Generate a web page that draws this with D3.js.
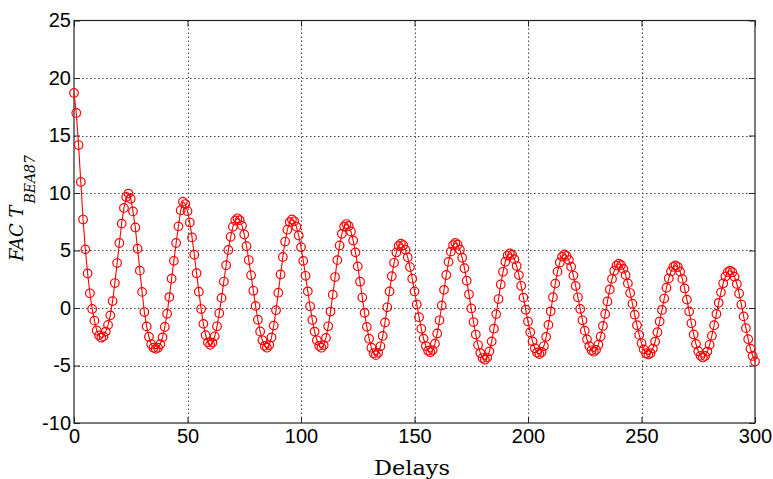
<!DOCTYPE html>
<html>
<head>
<meta charset="utf-8">
<script src="https://cdn.jsdelivr.net/npm/d3@7"></script>
<style>
  html, body { margin: 0; padding: 0; background: #fff; }
  svg { display: block; }
</style>
</head>
<body>
<svg id="chart" width="773" height="479"></svg>
<script>
// ---- data ----
const facValues = [
  18.7, 16.96, 14.17, 10.96, 7.69, 5.1, 3.0, 1.28, -0.08, -1.1,
  -1.95, -2.38, -2.58, -2.47, -2.05, -1.47, -0.64, 0.6, 2.17, 3.91,
  5.65, 7.34, 8.7, 9.65, 9.95, 9.5, 8.4, 7.0, 5.15, 3.25,
  1.4, -0.35, -1.6, -2.5, -3.15, -3.45, -3.55, -3.45, -3.15, -2.55,
  -1.65, -0.5, 0.95, 2.55, 4.1, 5.65, 7.1, 8.5, 9.25, 9.04,
  8.42, 7.43, 6.14, 4.63, 3.02, 1.42, -0.09, -1.38, -2.37, -2.99,
  -3.2, -3.01, -2.46, -1.59, -0.45, 0.88, 2.3, 3.72, 5.05, 6.19,
  7.06, 7.61, 7.8, 7.64, 7.16, 6.39, 5.37, 4.17, 2.85, 1.5,
  0.18, -1.02, -2.04, -2.81, -3.29, -3.45, -3.22, -2.56, -1.53, -0.19,
  1.33, 2.92, 4.44, 5.78, 6.81, 7.47, 7.7, 7.54, 7.06, 6.3,
  5.29, 4.1, 2.8, 1.45, 0.15, -1.04, -2.05, -2.81, -3.29, -3.45,
  -3.23, -2.6, -1.59, -0.31, 1.16, 2.69, 4.16, 5.44, 6.45, 7.08,
  7.3, 7.13, 6.65, 5.87, 4.84, 3.62, 2.29, 0.91, -0.42, -1.64,
  -2.67, -3.45, -3.93, -4.1, -3.9, -3.33, -2.43, -1.26, 0.06, 1.44,
  2.76, 3.93, 4.83, 5.4, 5.6, 5.46, 5.06, 4.41, 3.56, 2.55,
  1.44, 0.31, -0.8, -1.81, -2.66, -3.31, -3.71, -3.85, -3.66, -3.1,
  -2.21, -1.07, 0.22, 1.58, 2.87, 4.01, 4.9, 5.46, 5.65, 5.5,
  5.07, 4.37, 3.46, 2.37, 1.19, -0.04, -1.22, -2.31, -3.22, -3.92,
  -4.35, -4.5, -4.31, -3.77, -2.9, -1.8, -0.53, 0.78, 2.05, 3.15,
  4.02, 4.56, 4.75, 4.62, 4.25, 3.65, 2.86, 1.93, 0.9, -0.15,
  -1.18, -2.11, -2.9, -3.5, -3.87, -4.0, -3.82, -3.31, -2.51, -1.47,
  -0.29, 0.94, 2.12, 3.16, 3.96, 4.47, 4.65, 4.53, 4.17, 3.59,
  2.82, 1.92, 0.93, -0.08, -1.07, -1.97, -2.74, -3.32, -3.68, -3.8,
  -3.64, -3.19, -2.48, -1.56, -0.52, 0.57, 1.61, 2.53, 3.24, 3.69,
  3.85, 3.73, 3.4, 2.86, 2.14, 1.3, 0.38, -0.58, -1.5, -2.34,
  -3.06, -3.6, -3.93, -4.05, -3.92, -3.53, -2.92, -2.11, -1.17, -0.17,
  0.82, 1.76, 2.57, 3.18, 3.57, 3.7, 3.56, 3.16, 2.53, 1.7,
  0.73, -0.3, -1.33, -2.3, -3.13, -3.76, -4.16, -4.3, -4.17, -3.79,
  -3.2, -2.41, -1.5, -0.52, 0.45, 1.36, 2.15, 2.74, 3.12, 3.25,
  3.11, 2.72, 2.09, 1.26, 0.3, -0.73, -1.75, -2.71, -3.54, -4.17,
  -4.65
];
const delays = facValues.map((v, i) => i);
const xTicks = [0, 50, 100, 150, 200, 250, 300];
const yTicks = [-10, -5, 0, 5, 10, 15, 20, 25];
const xLabel = "Delays";
const yLabelMain = "FAC T";
const yLabelSub = "BEA87";

// ---- layout ----
const L = 74, R = 755, T = 20.5, B = 423;
const svg = d3.select("#chart");
svg.append("rect").attr("width", 773).attr("height", 479).attr("fill", "#fff");

const x = d3.scaleLinear().domain([0, 300]).range([L, R]);
const y = d3.scaleLinear().domain([-10, 25]).range([B, T]);

// grid
const grid = svg.append("g").attr("stroke", "#444").attr("stroke-width", 1)
  .attr("stroke-dasharray", "1.5,2.5").attr("fill", "none");
grid.selectAll("line.gx").data(xTicks.filter(d => d > 0 && d < 300)).join("line")
  .attr("x1", d => Math.round(x(d)) + 0.5).attr("x2", d => Math.round(x(d)) + 0.5)
  .attr("y1", T).attr("y2", B);
grid.selectAll("line.gy").data(yTicks.filter(d => d > -10 && d < 25)).join("line")
  .attr("y1", d => Math.round(y(d)) + 0.5).attr("y2", d => Math.round(y(d)) + 0.5)
  .attr("x1", L).attr("x2", R);

// axes
const font = "'Liberation Sans', Arial, sans-serif";
const fmt = d => String(d);
const ax = svg.append("g").attr("transform", `translate(0,${B})`)
  .call(d3.axisBottom(x).tickValues(xTicks).tickFormat(fmt).tickSizeInner(-6).tickSizeOuter(0).tickPadding(6));
const ay = svg.append("g").attr("transform", `translate(${L},0)`)
  .call(d3.axisLeft(y).tickValues(yTicks).tickFormat(fmt).tickSizeInner(-6).tickSizeOuter(0).tickPadding(3));
const at = svg.append("g").attr("transform", `translate(0,${T})`)
  .call(d3.axisTop(x).tickValues(xTicks).tickSizeInner(-6).tickSizeOuter(0).tickFormat(""));
const ar = svg.append("g").attr("transform", `translate(${R},0)`)
  .call(d3.axisRight(y).tickValues(yTicks).tickSizeInner(-6).tickSizeOuter(0).tickFormat(""));
[ax, ay, at, ar].forEach(g => {
  g.select(".domain").remove();
  g.selectAll(".tick line").attr("stroke", "#222");
  g.selectAll(".tick text").attr("fill", "#000").style("font-family", font).style("font-size", "20px");
});

// frame
svg.append("rect").attr("x", L).attr("y", T).attr("width", R - L).attr("height", B - T)
  .attr("fill", "none").attr("stroke", "#222").attr("stroke-width", 1.2);

// series
const line = d3.line().x((d, i) => x(delays[i])).y(d => y(d));
svg.append("path").datum(facValues).attr("d", line)
  .attr("fill", "none").attr("stroke", "#ff0000").attr("stroke-width", 1.1);
svg.append("g").selectAll("circle").data(facValues).join("circle")
  .attr("cx", (d, i) => x(delays[i])).attr("cy", d => y(d)).attr("r", 4.3)
  .attr("fill", "none").attr("stroke", "#ff0000").attr("stroke-width", 1.2);

// labels
svg.append("text").attr("x", 412).attr("y", 475).attr("text-anchor", "middle")
  .style("font-family", "'DejaVu Serif', serif").style("font-size", "21px")
  .attr("textLength", 76).attr("lengthAdjust", "spacingAndGlyphs")
  .text(xLabel);

const yl = svg.append("text").attr("transform", "translate(23,261) rotate(-90)")
  .style("font-family", "'DejaVu Serif', serif").style("font-style", "italic").style("font-size", "18px");
yl.append("tspan").text(yLabelMain);
yl.append("tspan").attr("dy", 12).attr("dx", 2).style("font-size", "14px").text(yLabelSub);
</script>
</body>
</html>
